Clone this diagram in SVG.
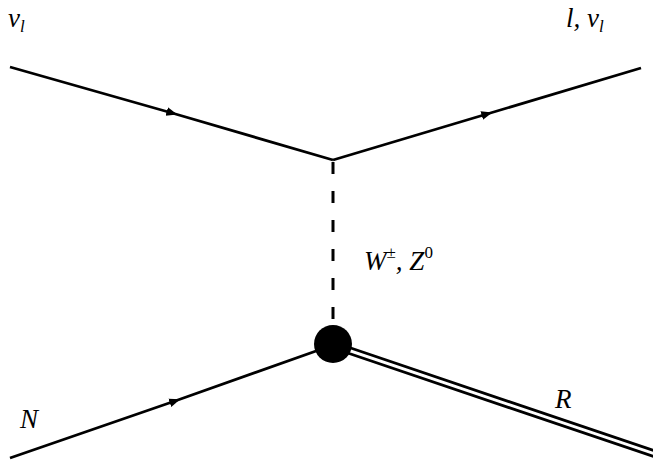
<svg xmlns="http://www.w3.org/2000/svg" width="653" height="461" viewBox="0 0 653 461">
<defs>
<style>
.l{stroke:#000;stroke-width:2.8;fill:none}
.d{stroke:#000;stroke-width:3;fill:none;stroke-dasharray:12 17}
.t{font-family:"Liberation Serif","DejaVu Serif",serif;font-style:italic;font-size:27px;fill:#000}
.s{font-size:17px}
</style>
<marker id="ar" viewBox="0 0 10 10" refX="5" refY="5" markerWidth="11" markerHeight="11" markerUnits="userSpaceOnUse" orient="auto">
<path d="M0,1 L10,5 L0,9 Z" fill="#000"/>
</marker>
</defs>
<rect width="653" height="461" fill="#fff"/>
<g id="connectors">
<path class="l" d="M10,67 L172,113 L333,160" marker-mid="url(#ar)"/>
<path class="l" d="M333,160 L487,114 L641,68" marker-mid="url(#ar)"/>
<path class="d" d="M333,162 L333,330"/>
<path class="l" d="M10,458 L175,401 L333,345" marker-mid="url(#ar)"/>
<path class="l" d="M333,342 L655,451"/>
<path class="l" d="M333,348 L655,457"/>
</g>
<g id="vertex-bottom"><circle cx="333" cy="344" r="19" fill="#000"/></g>
<g id="label-nu"><text class="t" x="8" y="27">ν<tspan class="s" dy="5">l</tspan></text></g>
<g id="label-lnu"><text class="t" x="566" y="27">l, ν<tspan class="s" dy="5">l</tspan></text></g>
<g id="label-WZ"><text class="t" x="364" y="270" font-size="29">W<tspan class="s" dy="-12" font-style="normal">±</tspan><tspan dy="12">, Z</tspan><tspan class="s" dy="-12" font-style="normal">0</tspan></text></g>
<g id="label-N"><text class="t" x="20" y="428">N</text></g>
<g id="label-R"><text class="t" x="555" y="408">R</text></g>
</svg>
